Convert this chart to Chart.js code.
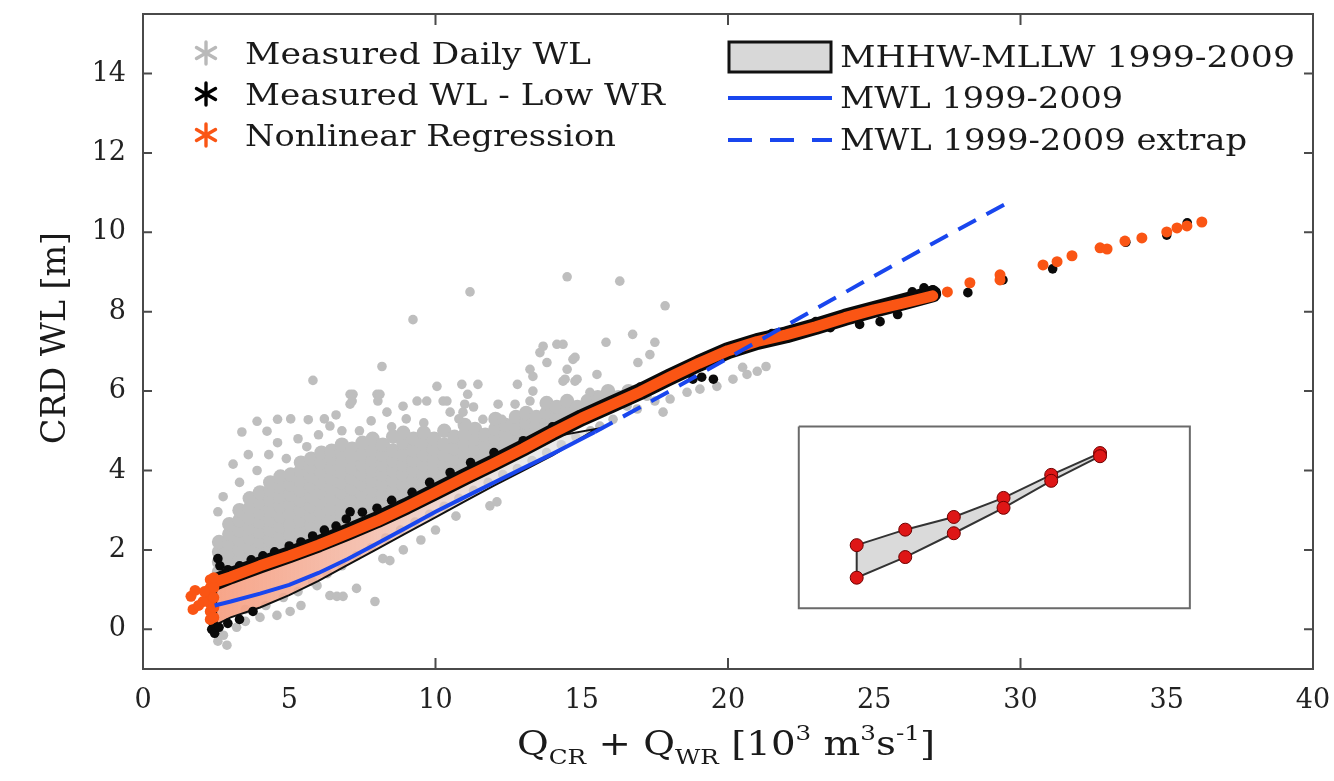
<!DOCTYPE html>
<html>
<head>
<meta charset="utf-8">
<script src="https://cdn.jsdelivr.net/npm/chart.js@4.4.1/dist/chart.umd.min.js"></script>
<style>
  html, body { margin: 0; padding: 0; background: #fff; }
</style>
</head>
<body>
<canvas id="nivel" width="1334" height="781"></canvas>
<script>
// ticks
var xTicks = [0, 5, 10, 15, 20, 25, 30, 35, 40];
var yTicks = [0, 2, 4, 6, 8, 10, 12, 14];
var xTickMarks = [10, 20, 30];

// Measured Daily WL (gray) - dense core by column [x, [y...]]
var grayCols = [
  [2.6, [1.45, 1.7, 1.95, 2.2]],
  [2.95, [1.4, 1.65, 1.9, 2.15, 2.4, 2.65]],
  [3.3, [1.5, 1.75, 2.0, 2.25, 2.5, 2.75, 3.0]],
  [3.65, [1.55, 1.8, 2.05, 2.3, 2.55, 2.8, 3.05, 3.3]],
  [4.0, [1.7, 1.95, 2.2, 2.45, 2.7, 2.95, 3.2, 3.45]],
  [4.35, [1.75, 2.0, 2.25, 2.5, 2.75, 3.0, 3.25, 3.5, 3.7]],
  [4.7, [1.85, 2.1, 2.35, 2.6, 2.85, 3.1, 3.35, 3.6, 3.85]],
  [5.05, [1.9, 2.15, 2.4, 2.65, 2.9, 3.15, 3.4, 3.65, 3.9]],
  [5.4, [2.0, 2.25, 2.5, 2.75, 3.0, 3.25, 3.5, 3.75, 4.0, 4.2]],
  [5.75, [2.1, 2.35, 2.6, 2.85, 3.1, 3.35, 3.6, 3.85, 4.1, 4.3]],
  [6.1, [2.2, 2.45, 2.7, 2.95, 3.2, 3.45, 3.7, 3.95, 4.2, 4.45]],
  [6.45, [2.3, 2.55, 2.8, 3.05, 3.3, 3.55, 3.8, 4.05, 4.3, 4.5]],
  [6.8, [2.45, 2.7, 2.95, 3.2, 3.45, 3.7, 3.95, 4.2, 4.45, 4.65]],
  [7.15, [2.55, 2.8, 3.05, 3.3, 3.55, 3.8, 4.05, 4.3, 4.55]],
  [7.5, [2.65, 2.9, 3.15, 3.4, 3.65, 3.9, 4.15, 4.4, 4.7]],
  [7.85, [2.75, 3.0, 3.25, 3.5, 3.75, 4.0, 4.25, 4.5, 4.8]],
  [8.2, [2.9, 3.15, 3.4, 3.65, 3.9, 4.15, 4.4, 4.65]],
  [8.55, [3.0, 3.25, 3.5, 3.75, 4.0, 4.25, 4.5, 4.85]],
  [8.9, [3.15, 3.4, 3.65, 3.9, 4.15, 4.4, 4.7, 4.95]],
  [9.25, [3.25, 3.5, 3.75, 4.0, 4.25, 4.5, 4.8]],
  [9.6, [3.4, 3.65, 3.9, 4.15, 4.4, 4.65, 4.95]],
  [9.95, [3.55, 3.8, 4.05, 4.3, 4.55, 4.8]],
  [10.3, [3.65, 3.9, 4.15, 4.4, 4.65, 5.0]],
  [10.65, [3.8, 4.05, 4.3, 4.55, 4.85]],
  [11.0, [3.9, 4.15, 4.4, 4.65, 4.9, 5.15]],
  [11.35, [4.05, 4.3, 4.55, 4.8, 5.05]],
  [11.7, [4.15, 4.4, 4.65, 4.9]],
  [12.05, [4.3, 4.55, 4.8, 5.05, 5.3]],
  [12.4, [4.4, 4.65, 4.9, 5.15]],
  [12.75, [4.55, 4.8, 5.05, 5.35]],
  [13.1, [4.7, 4.95, 5.2, 5.45]],
  [13.45, [4.85, 5.1, 5.35]],
  [13.8, [4.95, 5.2, 5.45, 5.7]],
  [14.15, [5.1, 5.35, 5.6]],
  [14.5, [5.25, 5.5, 5.75]],
  [14.85, [5.35, 5.6]],
  [15.2, [5.5, 5.75]],
  [15.55, [5.6, 5.85]],
  [15.9, [5.75, 6.0]],
  [16.25, [5.85]],
  [16.6, [6.0]]
];

// Measured Daily WL (gray) - scattered points
var grayPoints = [
  [2.56, 2.96], [2.74, 3.34], [3.08, 4.16], [3.38, 4.97], [3.9, 5.24], [4.24, 4.99],
  [4.6, 5.29], [5.05, 5.3], [5.65, 5.28], [3.3, 3.7], [3.6, 4.4], [3.9, 4.0],
  [4.3, 4.4], [4.6, 4.7], [4.9, 4.3], [5.3, 4.8], [5.6, 4.6], [6.0, 4.9],
  [6.39, 5.12], [6.8, 5.0], [7.08, 5.67], [7.08, 5.92], [7.18, 5.92], [7.15, 5.75],
  [8.0, 5.92], [8.1, 5.92], [8.03, 5.75], [8.34, 5.47], [8.89, 5.62], [9.37, 5.75],
  [9.7, 5.75], [10.26, 5.75], [10.39, 5.75], [10.5, 5.47], [10.94, 5.47], [10.05, 6.12],
  [10.9, 6.17], [11.45, 6.17], [11.1, 5.92], [11.0, 5.67], [12.14, 5.67], [12.72, 5.67],
  [12.27, 5.29], [11.62, 5.29], [12.8, 6.17], [13.33, 6.0], [13.23, 5.75], [13.23, 6.55],
  [13.33, 6.37], [13.57, 6.97], [13.68, 7.13], [14.15, 7.18], [14.36, 7.18], [13.81, 6.72],
  [14.7, 6.8], [14.5, 6.55], [14.36, 6.25], [14.77, 6.25], [14.43, 6.3], [14.84, 6.3],
  [14.77, 6.85], [15.52, 6.42], [15.28, 5.97], [15.83, 7.23], [16.74, 7.43], [16.92, 6.72],
  [17.33, 6.92], [17.5, 7.23], [17.85, 8.15], [14.5, 8.88], [16.3, 8.77], [11.18, 8.5],
  [9.23, 7.8], [8.17, 6.62], [5.81, 6.27], [7.4, 5.0], [8.5, 5.1], [9.0, 5.3],
  [7.8, 5.25], [6.6, 5.4], [6.2, 5.3], [9.6, 5.2], [10.8, 5.3], [11.3, 5.6],
  [2.56, -0.3], [2.87, -0.4], [2.75, -0.15], [3.2, 0.05], [3.5, 0.2], [4.0, 0.3],
  [4.58, 0.35], [5.03, 0.45], [5.4, 0.6], [5.95, 1.1], [6.39, 0.85], [6.63, 0.83],
  [6.84, 0.83], [7.3, 1.03], [7.93, 0.7], [8.2, 1.78], [8.44, 1.73], [8.9, 2.0],
  [9.5, 2.25], [10.0, 2.5], [10.7, 2.85], [11.86, 3.11], [12.1, 3.21], [3.5, 0.5],
  [4.2, 0.6], [4.8, 0.8], [5.3, 0.95], [5.8, 1.2], [6.3, 1.4], [6.8, 1.6],
  [7.3, 1.85], [7.8, 2.05], [8.3, 2.3], [8.8, 2.5], [9.3, 2.7], [9.8, 2.9],
  [10.3, 3.1], [10.8, 3.3], [11.3, 3.5], [11.8, 3.7], [12.3, 3.9], [12.8, 4.05],
  [13.3, 4.25], [13.8, 4.45], [14.3, 4.65], [14.8, 4.85], [15.3, 5.0], [15.62, 5.12],
  [16.07, 5.29], [16.55, 5.62], [17.23, 5.87], [17.78, 5.47], [18.02, 5.8], [18.6, 5.97],
  [19.04, 6.05], [19.62, 6.12], [20.17, 6.3], [20.65, 6.42], [21.0, 6.5], [21.3, 6.62],
  [20.5, 6.6], [16.9, 5.55], [17.5, 5.75]
];

// Measured WL - Low WR (black)
var lowWrCurve = [
  [2.5, 1.2], [3, 1.35], [4, 1.62], [5, 1.88], [6, 2.15], [7, 2.45], [8, 2.76], [9, 3.1],
  [10, 3.47], [11, 3.84], [12, 4.2], [13, 4.57], [14, 4.96], [15, 5.33], [16, 5.66],
  [17, 5.99], [18, 6.35], [19, 6.7], [20, 7.02], [21, 7.25], [22, 7.42], [23, 7.63],
  [24, 7.86], [25, 8.06], [26, 8.25], [27, 8.45]
];
var lowWrPoints = [
  [2.35, 0.0], [2.45, -0.1], [2.5, 0.05], [2.4, 0.15], [2.6, 0.05], [2.9, 0.15],
  [3.3, 0.25], [3.76, 0.45], [2.56, 1.78], [2.63, 1.6], [2.9, 1.5], [3.3, 1.6],
  [3.7, 1.75], [4.1, 1.85], [4.5, 1.95], [5.0, 2.1], [5.4, 2.2], [5.8, 2.35],
  [6.2, 2.5], [6.6, 2.6], [6.95, 2.78], [7.08, 2.96], [7.5, 2.95], [8.0, 3.05],
  [8.5, 3.25], [9.2, 3.45], [9.8, 3.7], [10.5, 3.95], [11.2, 4.2], [12.0, 4.45],
  [13.0, 4.75], [14.0, 5.1], [15.5, 5.55], [17.0, 6.1], [18.8, 6.3], [19.1, 6.35],
  [19.5, 6.3], [20.5, 7.15], [21.5, 7.45], [22.5, 7.5], [23.0, 7.75], [23.5, 7.6],
  [24.5, 7.68], [25.2, 7.75], [25.8, 7.93], [26.3, 8.5], [26.7, 8.6], [27.0, 8.55],
  [28.2, 8.48], [29.4, 8.8], [31.1, 9.08], [33.6, 9.75], [35.0, 9.93], [35.7, 10.24]
];

// Nonlinear Regression (orange)
var regCurve = [
  [2.5, 1.2], [3, 1.32], [4, 1.6], [5, 1.85], [6, 2.12], [7, 2.42], [8, 2.73], [9, 3.08],
  [10, 3.45], [11, 3.82], [12, 4.18], [13, 4.55], [14, 4.95], [15, 5.32], [16, 5.65],
  [17, 5.98], [18, 6.35], [19, 6.7], [20, 7.02], [21, 7.25], [22, 7.42], [23, 7.62],
  [24, 7.85], [25, 8.05], [26, 8.22], [27, 8.4]
];
var regPoints = [
  [2.3, 0.25], [2.3, 0.45], [2.3, 0.65], [2.3, 0.85], [2.3, 1.05], [2.3, 1.25],
  [2.42, 0.3], [2.42, 0.55], [2.42, 0.8], [2.42, 1.05], [2.42, 1.3],
  [1.64, 0.83], [1.78, 0.98], [1.71, 0.5], [2.05, 0.7], [1.9, 0.6], [2.1, 0.95],
  [27.5, 8.5], [28.27, 8.73], [29.3, 8.93], [29.3, 8.8], [30.77, 9.18], [31.25, 9.26],
  [31.76, 9.41], [32.72, 9.61], [32.96, 9.58], [33.57, 9.78], [34.15, 9.86],
  [35.0, 10.01], [35.35, 10.11], [35.69, 10.16], [36.2, 10.26]
];

// MHHW-MLLW 1999-2009 band (upper edge then lower edge back)
var tideHigh = [
  [2.5, 1.28], [3, 1.3], [4, 1.5], [5, 1.75], [6, 2.02], [7, 2.32], [8, 2.65], [9, 3.0],
  [10, 3.38], [11, 3.75], [12, 4.1], [13, 4.47], [14, 4.85], [15.5, 5.05]
];
var tideLow = [
  [15.5, 5.05], [14, 4.38], [13, 4.0], [12, 3.62], [11, 3.22], [10, 2.82], [9, 2.42],
  [8, 2.02], [7, 1.62], [6, 1.22], [5, 0.86], [4, 0.55], [3, 0.3], [2.5, 0.12], [2.5, 1.28]
];

// MWL 1999-2009
var mwl = [
  [2.45, 0.6], [3, 0.7], [4, 0.9], [5, 1.12], [6, 1.42], [7, 1.77], [8, 2.16], [9, 2.56],
  [10, 2.96], [11, 3.33], [12, 3.7], [13, 4.06], [14, 4.42], [15.45, 4.97]
];
var mwlExtrap = [
  [15.45, 4.97], [18, 6.0], [20, 6.83], [22.7, 7.95], [25, 8.9], [27, 9.72], [29.5, 10.72]
];

// inset sketch
var insetBox = [[22.42, 5.11], [35.79, 5.11], [35.79, 0.53], [22.42, 0.53], [22.42, 5.11]];
var insetHigh = [[24.4, 2.12], [26.06, 2.51], [27.72, 2.83], [29.42, 3.31], [31.05, 3.89], [32.72, 4.44]];
var insetLow = [[32.72, 4.36], [31.05, 3.74], [29.42, 3.06], [27.72, 2.42], [26.06, 1.82], [24.4, 1.30]];

var gris = 'rgb(190,190,190)';
var naranja = 'rgb(250,85,20)';
var azul = 'rgb(25,70,238)';
var fuente = '"DejaVu Serif", "Liberation Serif", serif';

function pts(arr) {
  return arr.map(function (p) { return { x: p[0], y: p[1] }; });
}

var grayCore = [];
grayCols.forEach(function (c) {
  c[1].forEach(function (y) { grayCore.push({ x: c[0], y: y }); });
});

function bandFill(c) {
  var ch = c.chart;
  if (!ch.chartArea) return 'rgba(246,165,138,0.9)';
  var xs = ch.scales.x;
  var g = ch.ctx.createLinearGradient(xs.getPixelForValue(2.5), 0, xs.getPixelForValue(13), 0);
  g.addColorStop(0, 'rgba(247,160,130,0.95)');
  g.addColorStop(0.5, 'rgba(242,180,160,0.8)');
  g.addColorStop(1, 'rgba(220,220,220,0.6)');
  return g;
}

var datasets = [
  { data: grayCore, backgroundColor: gris, borderWidth: 0, pointRadius: 7.2, order: 20 },
  { data: pts(grayPoints), backgroundColor: gris, borderWidth: 0, pointRadius: 4.8, order: 19 },
  { data: pts(tideHigh.concat(tideLow)), showLine: true, fill: 'shape', backgroundColor: bandFill,
    borderColor: '#111', borderWidth: 2, pointRadius: 0, order: 18 },
  { data: pts(lowWrCurve), showLine: true, borderColor: '#0a0a0a', borderWidth: 17,
    borderCapStyle: 'round', borderJoinStyle: 'round', pointRadius: 0, order: 17 },
  { data: pts(lowWrPoints), backgroundColor: '#0a0a0a', borderWidth: 0, pointRadius: 4.8, order: 16 },
  { data: pts(regCurve), showLine: true, borderColor: naranja, borderWidth: 11,
    borderCapStyle: 'round', borderJoinStyle: 'round', pointRadius: 0, order: 15 },
  { data: pts(regPoints), backgroundColor: naranja, borderWidth: 0, pointRadius: 5.5, order: 14 },
  { data: pts(mwl), showLine: true, borderColor: azul, borderWidth: 4, pointRadius: 0, order: 13 },
  { data: pts(mwlExtrap), showLine: true, borderColor: azul, borderWidth: 4, borderDash: [20, 12],
    pointRadius: 0, order: 12 },
  { data: pts(insetBox), showLine: true, borderColor: '#6a6a6a', borderWidth: 2, pointRadius: 0, order: 4 },
  { data: pts(insetHigh.concat(insetLow).concat([insetHigh[0]])), showLine: true, fill: 'shape',
    backgroundColor: 'rgb(218,218,218)', borderColor: '#333', borderWidth: 2, pointRadius: 0, order: 3 },
  { data: pts(insetHigh.concat(insetLow)), backgroundColor: 'rgb(222,22,22)', borderColor: 'rgb(110,0,0)',
    borderWidth: 1, pointRadius: 6.5, order: 2 }
];

function asterisco(ctx, x, y, r, color) {
  ctx.save();
  ctx.strokeStyle = color;
  ctx.lineWidth = 3.4;
  ctx.lineCap = 'round';
  [90, 30, 150].forEach(function (a) {
    var t = a * Math.PI / 180;
    ctx.beginPath();
    ctx.moveTo(x - r * Math.cos(t), y - r * Math.sin(t));
    ctx.lineTo(x + r * Math.cos(t), y + r * Math.sin(t));
    ctx.stroke();
  });
  ctx.restore();
}

function textoAncho(ctx, txt, x, y, ancho) {
  var w = ctx.measureText(txt).width;
  ctx.save();
  ctx.translate(x, y);
  ctx.scale(ancho / w, 1);
  ctx.fillText(txt, 0, 0);
  ctx.restore();
}

var marco = {
  id: 'marco',
  afterDraw: function (chart) {
    var ctx = chart.ctx, a = chart.chartArea, xs = chart.scales.x, ys = chart.scales.y;
    ctx.save();
    ctx.strokeStyle = '#4a4a4a';
    ctx.lineWidth = 2;
    ctx.strokeRect(a.left, a.top, a.right - a.left, a.bottom - a.top);
    ctx.beginPath();
    xTickMarks.forEach(function (v) {
      var px = xs.getPixelForValue(v);
      ctx.moveTo(px, a.bottom); ctx.lineTo(px, a.bottom - 11);
      ctx.moveTo(px, a.top); ctx.lineTo(px, a.top + 11);
    });
    yTicks.forEach(function (v) {
      var py = ys.getPixelForValue(v);
      ctx.moveTo(a.left, py); ctx.lineTo(a.left + 9, py);
      ctx.moveTo(a.right, py); ctx.lineTo(a.right - 9, py);
    });
    ctx.stroke();

    // legend, left block
    ctx.fillStyle = '#1a1a1a';
    ctx.textBaseline = 'middle';
    ctx.font = '30px ' + fuente;
    asterisco(ctx, 206, 53, 11, 'rgb(185,185,185)');
    asterisco(ctx, 206, 94, 11, '#000');
    asterisco(ctx, 206, 135, 11, naranja);
    textoAncho(ctx, 'Measured Daily WL', 245, 56, 346);
    textoAncho(ctx, 'Measured WL - Low WR', 245, 97, 420);
    textoAncho(ctx, 'Nonlinear Regression', 245, 138, 371);

    // legend, right block
    ctx.fillStyle = 'rgb(216,216,216)';
    ctx.fillRect(729, 42, 102, 30);
    ctx.strokeStyle = '#111';
    ctx.lineWidth = 3;
    ctx.strokeRect(729, 42, 102, 30);
    ctx.strokeStyle = azul;
    ctx.lineWidth = 4;
    ctx.beginPath(); ctx.moveTo(728, 98); ctx.lineTo(832, 98); ctx.stroke();
    ctx.setLineDash([24, 18]);
    ctx.beginPath(); ctx.moveTo(728, 140); ctx.lineTo(832, 140); ctx.stroke();
    ctx.setLineDash([]);
    ctx.fillStyle = '#1a1a1a';
    textoAncho(ctx, 'MHHW-MLLW 1999-2009', 840, 59, 455);
    textoAncho(ctx, 'MWL 1999-2009', 840, 100, 283);
    textoAncho(ctx, 'MWL 1999-2009 extrap', 840, 142, 407);

    // y axis title
    ctx.save();
    ctx.translate(56, 338);
    ctx.rotate(-Math.PI / 2);
    ctx.textAlign = 'left';
    ctx.font = '34px ' + fuente;
    var ty = 'CRD WL [m]';
    var wy = ctx.measureText(ty).width;
    ctx.scale(212 / wy, 1);
    ctx.fillText(ty, -wy / 2, 0);
    ctx.restore();

    // x axis title with sub/superscripts
    var partes = [['Q', 0], ['CR', 1], [' + ', 0], ['Q', 0], ['WR', 1], [' [10', 0], ['3', 2],
      [' m', 0], ['3', 2], ['s', 0], ['-1', 2], [']', 0]];
    var grande = '33px ' + fuente, chico = '21px ' + fuente;
    var total = 0;
    partes.forEach(function (p) {
      ctx.font = p[1] ? chico : grande;
      total += ctx.measureText(p[0]).width;
    });
    ctx.save();
    ctx.translate(517, 755);
    ctx.scale(418 / total, 1);
    ctx.textBaseline = 'alphabetic';
    ctx.textAlign = 'left';
    var cx = 0;
    partes.forEach(function (p) {
      ctx.font = p[1] ? chico : grande;
      var dy = p[1] === 1 ? 9 : (p[1] === 2 ? -15 : 0);
      ctx.fillText(p[0], cx, dy);
      cx += ctx.measureText(p[0]).width;
    });
    ctx.restore();
    ctx.restore();
  }
};

var ctx = document.getElementById('nivel').getContext('2d');
var grafico = new Chart(ctx, {
  type: 'scatter',
  data: { datasets: datasets },
  options: {
    responsive: false,
    devicePixelRatio: 1,
    animation: false,
    layout: { padding: { left: 0, right: 21, top: 14, bottom: 0 } },
    plugins: { legend: { display: false }, tooltip: { enabled: false } },
    scales: {
      x: {
        type: 'linear', min: 0, max: 40,
        afterBuildTicks: function (s) { s.ticks = xTicks.map(function (v) { return { value: v }; }); },
        afterFit: function (s) { s.height = 112; s.paddingLeft = 0; s.paddingRight = 0; },
        grid: { display: false }, border: { display: false },
        ticks: { autoSkip: false, maxRotation: 0, padding: 8, color: '#222',
          font: { family: 'DejaVu Serif', size: 27 } }
      },
      y: {
        type: 'linear', min: -1, max: 15.5,
        afterBuildTicks: function (s) { s.ticks = yTicks.map(function (v) { return { value: v }; }); },
        afterFit: function (s) { s.width = 143; s.paddingTop = 0; s.paddingBottom = 0; },
        grid: { display: false }, border: { display: false },
        ticks: { autoSkip: false, padding: 9, color: '#222',
          font: { family: 'DejaVu Serif', size: 27 } }
      }
    }
  },
  plugins: [marco]
});
</script>
</body>
</html>
